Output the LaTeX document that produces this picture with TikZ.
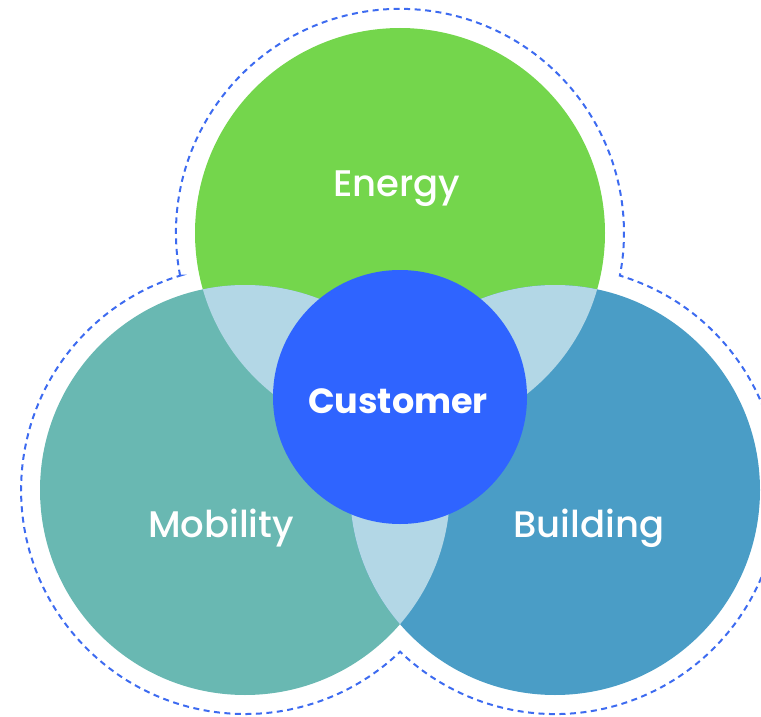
\documentclass[tikz,border=0pt]{standalone}
\usepackage{fontspec}
\IfFontExistsTF{Poppins Medium}{\newfontfamily\lblfont{Poppins Medium}}{\newfontfamily\lblfont{Poppins}[FakeBold=0.6]}
\newfontfamily\custfont{Poppins Bold}
\definecolor{cenergy}{HTML}{74D64C}
\definecolor{cmob}{HTML}{69B8B2}
\definecolor{cbuild}{HTML}{4A9DC6}
\definecolor{clap}{HTML}{B3D7E6}
\definecolor{ccust}{HTML}{2F64FF}
\definecolor{cdash}{HTML}{3D6BF0}
\begin{document}
\begin{tikzpicture}[x=1pt,y=-1pt,
  disc/.style={circle,inner sep=0pt,minimum size=410pt},
  lbl/.style={text=white,anchor=base,font=\lblfont\fontsize{37}{37}\selectfont},
  outline/.style={draw=cdash,line width=2pt,dash pattern=on 6pt off 4.5pt}]
\useasboundingbox (0,0) rectangle (761,717);
\node[disc,fill=cenergy] (energy) at (400,233) {};
\node[disc,fill=cmob] (mobility) at (245,490) {};
\node[disc,fill=cbuild] (building) at (555,490) {};
\begin{scope}
  \clip (400,233) circle (205);
  \fill[clap] (245,490) circle (205);
  \fill[clap] (555,490) circle (205);
\end{scope}
\begin{scope}
  \clip (245,490) circle (205);
  \fill[clap] (555,490) circle (205);
\end{scope}
\node[circle,inner sep=0pt,minimum size=254pt,fill=ccust] (customer) at (400,397) {};
\coordinate (notchL) at (180.1,275.6);
\draw[outline] (notchL) arc[start angle=169, end angle=371, radius=224]
  arc[start angle=-73.2, end angle=133.8, radius=224]
  arc[start angle=46.2, end angle=253.2, radius=224] -- cycle;
\node[lbl] (tE) at (397,196) {Energy};
\node[lbl] (tM) at (221,537) {Mobility};
\node[lbl] (tB) at (589,537) {Building};
\node[lbl,font=\custfont\fontsize{35}{35}\selectfont] (tC) at (398,413) {Customer};
\end{tikzpicture}
\end{document}
